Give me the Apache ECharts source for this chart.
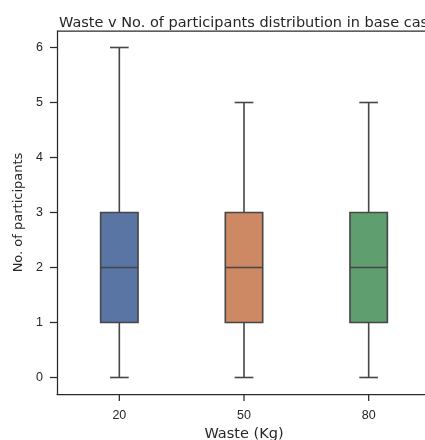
<!DOCTYPE html>
<html><head><meta charset="utf-8">
<script src="https://cdn.jsdelivr.net/npm/echarts@6/dist/echarts.min.js"></script>
<style>html,body{margin:0;padding:0;background:#fff}#c{width:425px;height:440px}</style>
</head><body><div id="c"></div>
<script>
var categories = ['20', '50', '80'];
var mins = [0, 0, 0];
var q1s = [1, 1, 1];
var medians = [2, 2, 2];
var q3s = [3, 3, 3];
var maxs = [6, 5, 5];
var boxColors = ['#5975a4', '#cc8963', '#5f9e6e'];
var yTicks = [0, 1, 2, 3, 4, 5, 6];

var data = categories.map(function (c, i) {
  return [i, mins[i], q1s[i], medians[i], q3s[i], maxs[i]];
});

var edge = '#464646';
var axisColor = '#2a2a2a';
var font = 'Liberation Sans, Arial, sans-serif';
var wideFont = 'DejaVu Sans, sans-serif';
var gridLeft = 57, gridTop = 31, gridWidth = 374, gridHeight = 363;
var yMin = -0.3, yMax = 6.3;
var tickLen = 7;

var chart = echarts.init(document.getElementById('c'), null, {renderer: 'canvas'});
chart.setOption({
  animation: false,
  title: {
    text: 'Waste v No. of participants distribution in base case',
    left: 243, top: 11, textAlign: 'center',
    textStyle: {fontFamily: wideFont, fontSize: 14.5, fontWeight: 'normal', color: '#262626'}
  },
  grid: {left: gridLeft, top: gridTop, width: gridWidth, height: gridHeight,
    containLabel: false, outerBoundsMode: 'none'},
  xAxis: {
    type: 'category', data: categories,
    name: 'Waste (Kg)', nameLocation: 'middle', nameGap: 32,
    nameTextStyle: {fontFamily: wideFont, fontSize: 14.5, color: '#262626'},
    axisLine: {show: true, onZero: false, lineStyle: {color: axisColor, width: 1.25}},
    axisTick: {show: false},
    axisLabel: {fontFamily: font, fontSize: 12.5, color: '#262626', margin: 15},
    splitLine: {show: false}
  },
  yAxis: {
    type: 'value', min: yMin, max: yMax,
    name: 'No. of participants', nameLocation: 'middle', nameGap: 25, nameRotate: 90,
    nameTextStyle: {fontFamily: wideFont, fontSize: 13, color: '#262626'},
    axisLine: {show: true, onZero: false, lineStyle: {color: axisColor, width: 1.25}},
    axisTick: {show: false},
    axisLabel: {fontFamily: font, fontSize: 12.5, color: '#262626', margin: 14,
      customValues: yTicks},
    splitLine: {show: false}
  },
  series: [{
    type: 'custom',
    data: data,
    clip: false,
    renderItem: function (params, api) {
      var i = api.value(0);
      var pMin = api.coord([i, api.value(1)]);
      var pQ1 = api.coord([i, api.value(2)]);
      var pMed = api.coord([i, api.value(3)]);
      var pQ3 = api.coord([i, api.value(4)]);
      var pMax = api.coord([i, api.value(5)]);
      var bw = api.size([1, 0])[0] * 0.3;
      var cx = pMed[0];
      var lw = 1.6;
      function ls() { return {stroke: edge, lineWidth: lw}; }
      return {
        type: 'group',
        children: [
          {type: 'line', shape: {x1: cx, y1: pQ1[1], x2: cx, y2: pMin[1]}, style: ls()},
          {type: 'line', shape: {x1: cx, y1: pQ3[1], x2: cx, y2: pMax[1]}, style: ls()},
          {type: 'line', shape: {x1: cx - bw / 4, y1: pMin[1], x2: cx + bw / 4, y2: pMin[1]}, style: ls()},
          {type: 'line', shape: {x1: cx - bw / 4, y1: pMax[1], x2: cx + bw / 4, y2: pMax[1]}, style: ls()},
          {type: 'rect', shape: {x: cx - bw / 2, y: pQ3[1], width: bw, height: pQ1[1] - pQ3[1]},
            style: {fill: boxColors[i], stroke: edge, lineWidth: lw}},
          {type: 'line', shape: {x1: cx - bw / 2, y1: pMed[1], x2: cx + bw / 2, y2: pMed[1]}, style: ls()}
        ]
      };
    }
  }]
});

// axis ticks and top spine, positioned through the chart's own scales
var leftX = gridLeft;
var bottomY = chart.convertToPixel({yAxisIndex: 0}, yMin);
var topY = chart.convertToPixel({yAxisIndex: 0}, yMax);
var g = [];
yTicks.forEach(function (v) {
  var py = chart.convertToPixel({yAxisIndex: 0}, v);
  g.push({type: 'line', z: 100, silent: true,
    shape: {x1: leftX - tickLen, y1: py, x2: leftX, y2: py},
    style: {stroke: axisColor, lineWidth: 1.25}});
});
categories.forEach(function (c) {
  var px = chart.convertToPixel({xAxisIndex: 0}, c);
  g.push({type: 'line', z: 100, silent: true,
    shape: {x1: px, y1: bottomY, x2: px, y2: bottomY + tickLen},
    style: {stroke: axisColor, lineWidth: 1.25}});
});
g.push({type: 'line', z: 100, silent: true,
  shape: {x1: leftX, y1: topY, x2: 425, y2: topY},
  style: {stroke: axisColor, lineWidth: 1.25}});
chart.setOption({graphic: g});
</script></body></html>
